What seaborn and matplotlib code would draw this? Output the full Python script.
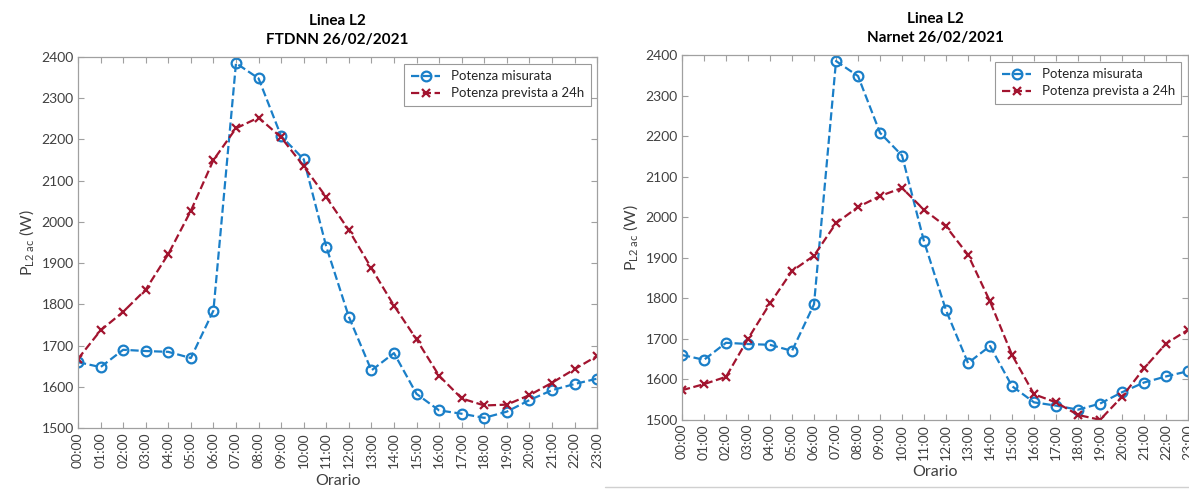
import pandas as pd
import matplotlib
matplotlib.use("Agg")
import matplotlib.pyplot as plt
import seaborn as sns

HOURS = [f"{h:02d}:00" for h in range(24)]

MISURATA = [1660, 1648, 1690, 1687, 1685, 1670, 1785, 2385, 2348, 2208, 2152, 1940,
            1770, 1640, 1682, 1583, 1543, 1535, 1525, 1540, 1568, 1592, 1607, 1620]
FTDNN = [1668, 1737, 1782, 1836, 1922, 2027, 2150, 2227, 2253, 2205, 2135, 2060,
         1980, 1888, 1797, 1715, 1627, 1572, 1555, 1557, 1580, 1610, 1643, 1675]
NARNET = [1573, 1588, 1606, 1700, 1787, 1867, 1905, 1985, 2025, 2052, 2072, 2018,
          1977, 1907, 1792, 1660, 1563, 1543, 1512, 1500, 1557, 1627, 1688, 1722]

PANELS = [("FTDNN 26/02/2021", FTDNN), ("Narnet 26/02/2021", NARNET)]

BLUE = "#1a7fc8"
RED = "#a2142f"
GREY = "#404040"

sns.set_style("white")
plt.rcParams["font.family"] = ["Lato", "DejaVu Sans"]
plt.rcParams["mathtext.fontset"] = "custom"
plt.rcParams["mathtext.rm"] = "Lato"
plt.rcParams["mathtext.it"] = "Lato:italic"

fig = plt.figure(figsize=(11.89, 4.91), dpi=100)
positions = [[0.0656, 0.128, 0.4366, 0.756], [0.5736, 0.145, 0.4256, 0.743]]

for (title, forecast), pos in zip(PANELS, positions):
    ax = fig.add_axes(pos)
    df = pd.DataFrame({"ora": range(24), "misurata": MISURATA, "prevista": forecast})
    sns.lineplot(data=df, x="ora", y="misurata", ax=ax, color=BLUE, linestyle="--",
                 linewidth=1.6, marker="o", markersize=7, markerfacecolor="none",
                 markeredgecolor=BLUE, markeredgewidth=1.6, label="Potenza misurata")
    sns.lineplot(data=df, x="ora", y="prevista", ax=ax, color=RED, linestyle="--",
                 linewidth=1.6, marker="x", markersize=6, markeredgewidth=1.6,
                 markeredgecolor=RED, label="Potenza prevista a 24h")
    ax.set_xlim(0, 23)
    ax.set_ylim(1500, 2400)
    ax.set_xticks(range(24))
    ax.set_xticklabels(HOURS, rotation=90)
    ax.set_yticks(range(1500, 2401, 100))
    ax.tick_params(direction="in", length=4, width=0.8, colors="#a0a0a0",
                   labelcolor=GREY, labelsize=10, top=True, right=True,
                   bottom=True, left=True, pad=3)
    for s in ax.spines.values():
        s.set_color("#a0a0a0")
        s.set_linewidth(0.9)
    ax.set_xlabel("Orario", fontsize=11.5, color=GREY, labelpad=4)
    ax.set_ylabel(r"P$_{\mathrm{L2\ ac}}$ (W)", fontsize=11.5, color=GREY, labelpad=4)
    ax.set_title("Linea L2\n" + title, fontsize=11, fontweight="bold", color="black",
                 pad=9, linespacing=1.5)
    leg = ax.legend(loc="upper right", fontsize=9.5, frameon=True, fancybox=False,
                    borderaxespad=0.5, handlelength=2.2, borderpad=0.5, labelspacing=0.4)
    leg.get_frame().set_edgecolor("#808080")
    leg.get_frame().set_linewidth(0.8)

fig.add_artist(plt.Line2D([0.509, 1.0], [1 - 487 / 491, 1 - 487 / 491],
                          color="#d0d0d0", linewidth=1, transform=fig.transFigure))

fig.savefig("out.png", dpi=100)
